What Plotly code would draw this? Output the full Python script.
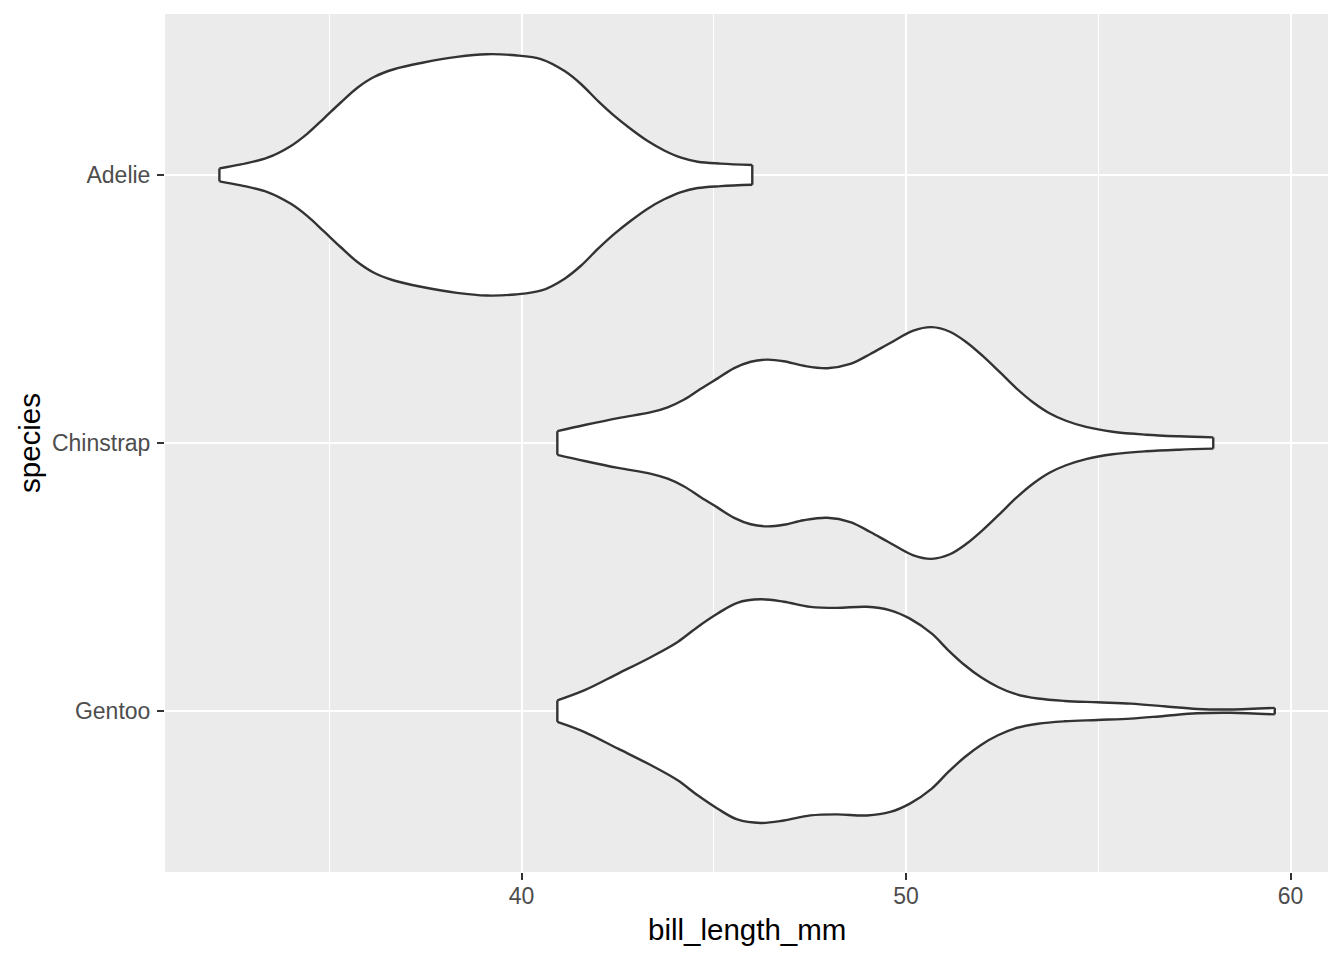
import plotly.graph_objects as go

species = ["Adelie", "Chinstrap", "Gentoo"]

# violin outline: bill length (mm) and half-width (in category units)
adelie_len = [32.14, 32.70, 33.39, 34.00, 34.43, 34.86, 35.29, 35.73, 36.16, 36.68, 37.45, 38.32, 39.09,
              39.83, 40.52, 41.12, 41.55, 41.99, 42.42, 42.85, 43.28, 43.71, 44.15, 44.58, 45.18, 46.00]
adelie_hw = [0.024, 0.039, 0.064, 0.108, 0.154, 0.211, 0.269, 0.325, 0.365, 0.394, 0.419, 0.440, 0.450,
             0.446, 0.431, 0.387, 0.338, 0.275, 0.219, 0.170, 0.126, 0.091, 0.064, 0.049, 0.042, 0.037]

chinstrap_len = [40.93, 41.64, 42.51, 43.37, 43.80, 44.23, 44.66, 45.10, 45.53, 45.96, 46.39, 46.82, 47.34,
                 47.95, 48.55, 49.07, 49.54, 50.19, 50.67, 51.14, 51.57, 52.00, 52.44, 52.87, 53.30,
                 53.73, 54.16, 54.68, 55.37, 56.24, 57.10, 57.99]
chinstrap_hw = [0.044, 0.067, 0.093, 0.115, 0.133, 0.162, 0.202, 0.241, 0.279, 0.303, 0.311, 0.305, 0.288,
                0.279, 0.295, 0.332, 0.369, 0.419, 0.432, 0.415, 0.376, 0.324, 0.264, 0.204, 0.152,
                0.111, 0.083, 0.060, 0.042, 0.031, 0.025, 0.021]

gentoo_len = [40.93, 41.64, 42.51, 43.37, 44.06, 44.58, 45.10, 45.61, 46.22, 46.82, 47.51, 48.20, 48.98,
              49.59, 50.10, 50.67, 51.10, 51.53, 51.96, 52.39, 52.82, 53.43, 54.12, 54.98, 55.85, 56.71,
              57.57, 58.44, 59.59]
gentoo_hw = [0.040, 0.078, 0.140, 0.202, 0.258, 0.314, 0.364, 0.404, 0.417, 0.408, 0.389, 0.385, 0.389,
             0.376, 0.345, 0.289, 0.227, 0.171, 0.125, 0.090, 0.065, 0.047, 0.038, 0.033, 0.028, 0.018,
             0.008, 0.006, 0.012]

x_ticks = [40, 50, 60]
x_minor_ticks = [35, 45, 55]

profiles = {
    "Adelie": (adelie_len, adelie_hw),
    "Chinstrap": (chinstrap_len, chinstrap_hw),
    "Gentoo": (gentoo_len, gentoo_hw),
}

n = len(species)
pos = {s: n - i for i, s in enumerate(species)}

OUTLINE = "#333333"
LW = 2.4

fig = go.Figure()
for s in species:
    xs, hw = profiles[s]
    c = pos[s]
    # lower edge
    fig.add_trace(go.Scatter(
        x=list(xs), y=[c - w for w in hw], mode="lines",
        line=dict(color=OUTLINE, width=LW, shape="spline", smoothing=1.0),
        hoverinfo="skip", showlegend=False,
    ))
    # upper edge, filled down to the lower edge
    fig.add_trace(go.Scatter(
        x=list(xs), y=[c + w for w in hw], mode="lines",
        line=dict(color=OUTLINE, width=LW, shape="spline", smoothing=1.0),
        fill="tonexty", fillcolor="#FFFFFF",
        hoverinfo="skip", showlegend=False,
    ))
    # straight end caps
    fig.add_trace(go.Scatter(
        x=[xs[0], xs[0], None, xs[-1], xs[-1]],
        y=[c - hw[0], c + hw[0], None, c - hw[-1], c + hw[-1]],
        mode="lines", line=dict(color=OUTLINE, width=LW),
        hoverinfo="skip", showlegend=False,
    ))

font_family = "Liberation Sans, Arial, sans-serif"

fig.update_layout(
    width=1328,
    height=944,
    margin=dict(l=157, r=8, t=6, b=80),
    paper_bgcolor="#FFFFFF",
    plot_bgcolor="#EBEBEB",
    font=dict(family=font_family),
    xaxis=dict(
        range=[30.725, 60.975],
        tickvals=x_ticks,
        ticktext=[str(v) for v in x_ticks],
        showgrid=True,
        gridcolor="#FFFFFF",
        gridwidth=2,
        zeroline=False,
        ticks="outside",
        ticklen=7,
        tickwidth=2,
        tickcolor="#333333",
        tickfont=dict(size=23, color="#4D4D4D", family=font_family),
        ticklabelstandoff=-4,
        minor=dict(tickvals=x_minor_ticks, showgrid=True, gridcolor="#FFFFFF", gridwidth=1, ticks=""),
        showline=False,
    ),
    yaxis=dict(
        range=[0.4, 3.6],
        tickvals=[pos[s] for s in species],
        ticktext=species,
        showgrid=True,
        gridcolor="#FFFFFF",
        gridwidth=2,
        zeroline=False,
        ticks="outside",
        ticklen=7,
        tickwidth=2,
        tickcolor="#333333",
        tickfont=dict(size=23, color="#4D4D4D", family=font_family),
        ticklabelstandoff=2,
        showline=False,
    ),
    annotations=[
        dict(text="bill_length_mm", xref="paper", yref="paper", x=0.5, y=0,
             yshift=-57, xanchor="center", yanchor="middle", showarrow=False,
             font=dict(size=29.5, color="#000000", family=font_family)),
        dict(text="species", xref="paper", yref="paper", x=0, y=0.5,
             xshift=-136, xanchor="center", yanchor="middle", textangle=-90, showarrow=False,
             font=dict(size=29.5, color="#000000", family=font_family)),
    ],
)

fig.write_html("out.html", config={"displayModeBar": False})
